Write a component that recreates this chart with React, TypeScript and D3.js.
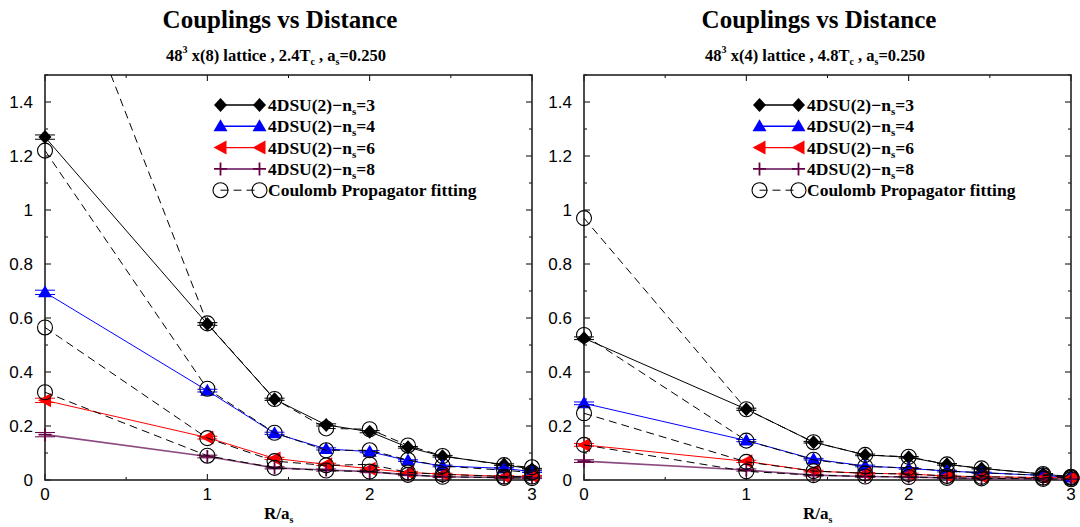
import React from "react";
import * as d3 from "d3";

// distances R/a_s
const R = [0, 1, 1.414, 1.732, 2, 2.236, 2.449, 2.828, 3];

// left panel: 48^3 x(8), 2.4Tc
const L_ns3 = [1.27, 0.578, 0.299, 0.204, 0.179, 0.121, 0.088, 0.057, 0.04];
const L_ns4 = [0.695, 0.331, 0.173, 0.115, 0.105, 0.072, 0.052, 0.043, 0.031];
const L_ns6 = [0.295, 0.157, 0.08, 0.058, 0.042, 0.028, 0.022, 0.013, 0.014];
const L_ns8 = [0.168, 0.087, 0.045, 0.037, 0.031, 0.019, 0.012, 0.009, 0.008];
const L_fit3 = [2.13, 0.58, 0.3, 0.191, 0.188, 0.128, 0.089, 0.055, 0.047];
const L_fit4 = [1.22, 0.338, 0.175, 0.11, 0.11, 0.074, 0.052, 0.036, 0.028];
const L_fit6 = [0.565, 0.155, 0.07, 0.054, 0.058, 0.028, 0.021, 0.013, 0.013];
const L_fit8 = [0.325, 0.09, 0.045, 0.035, 0.031, 0.019, 0.012, 0.008, 0.007];
const L_err = [0.008, 0.005, 0.004, 0.004, 0.004, 0.003, 0.003, 0.003, 0.003];

// right panel: 48^3 x(4), 4.8Tc
const R_ns3 = [0.525, 0.262, 0.14, 0.093, 0.084, 0.058, 0.043, 0.022, 0.012];
const R_ns4 = [0.284, 0.146, 0.077, 0.052, 0.043, 0.033, 0.027, 0.017, 0.009];
const R_ns6 = [0.13, 0.069, 0.033, 0.025, 0.022, 0.015, 0.012, 0.009, 0.008];
const R_ns8 = [0.07, 0.037, 0.018, 0.013, 0.011, 0.008, 0.006, 0.004, 0.003];
const R_fit3 = [0.97, 0.262, 0.14, 0.093, 0.086, 0.058, 0.043, 0.022, 0.012];
const R_fit4 = [0.537, 0.146, 0.075, 0.05, 0.045, 0.033, 0.027, 0.017, 0.009];
const R_fit6 = [0.247, 0.067, 0.033, 0.025, 0.022, 0.015, 0.012, 0.009, 0.008];
const R_fit8 = [0.13, 0.032, 0.018, 0.013, 0.011, 0.008, 0.006, 0.004, 0.003];
const R_err = [0.005, 0.004, 0.003, 0.003, 0.003, 0.003, 0.002, 0.002, 0.002];

const Y_TICKS = [0, 0.2, 0.4, 0.6, 0.8, 1, 1.2, 1.4];
const X_TICKS = [0, 1, 2, 3];
const LEGEND = ["4DSU(2)\u2212n|=3", "4DSU(2)\u2212n|=4", "4DSU(2)\u2212n|=6", "4DSU(2)\u2212n|=8"];

const SERIF = "'Liberation Serif', 'DejaVu Serif', serif";
const SANS = "'Liberation Sans', Arial, sans-serif";

const STY = [
  { line: "#000000", mark: "#000000", kind: "diamond", lw: 1 },
  { line: "#0000ff", mark: "#0000ff", kind: "tri", lw: 1 },
  { line: "#ff0000", mark: "#ff0000", kind: "left", lw: 1 },
  { line: "#8a4a80", mark: "#660044", kind: "plus", lw: 1.6 },
];

function Marker({ kind, x, y, color }: any) {
  if (kind === "diamond")
    return <path d={`M${x},${y - 7}L${x + 6.5},${y}L${x},${y + 7}L${x - 6.5},${y}Z`} fill={color} />;
  if (kind === "tri")
    return <path d={`M${x},${y - 7}L${x + 7},${y + 5}L${x - 7},${y + 5}Z`} fill={color} />;
  if (kind === "left")
    return <path d={`M${x - 7},${y}L${x + 6},${y - 7}L${x + 6},${y + 7}Z`} fill={color} />;
  return <path d={`M${x - 6.5},${y}H${x + 6.5}M${x},${y - 6.5}V${y + 6.5}`} stroke={color} strokeWidth={1.8} />;
}

function Panel({ ox, id, sub, meas, fits, err }: any) {
  const x = d3.scaleLinear().domain([0, 3]).range([ox, ox + 487]);
  const y = d3.scaleLinear().domain([0, 1.5]).range([480, 75]);
  const line = d3.line<number>().x((_, i) => x(R[i])).y((v) => y(v));
  const minorY = d3.range(0, 16).map((i) => i / 10);
  const minorX = d3.range(0, 7).map((i) => i / 2);
  const cx = ox + 235;
  const inRange = (v: number) => v <= 1.5;
  return (
    <g>
      <defs>
        <clipPath id={id}>
          <rect x={x(0)} y={y(1.5)} width={x(3) - x(0)} height={y(0) - y(1.5)} />
        </clipPath>
      </defs>
      <text x={cx} y={28} textAnchor="middle" fontFamily={SERIF} fontWeight="bold" fontSize={25}>
        Couplings vs Distance
      </text>
      <text x={cx - 4} y={61} textAnchor="middle" fontFamily={SERIF} fontWeight="bold" fontSize={16.5}>
        48<tspan fontSize={10} dy={-8}>3</tspan>
        <tspan dy={8}> x({sub[0]}) lattice , {sub[1]}T</tspan>
        <tspan fontSize={10} dy={4}>c</tspan>
        <tspan dy={-4}> , a</tspan>
        <tspan fontSize={10} dy={4}>s</tspan>
        <tspan dy={-4}>=0.250</tspan>
      </text>
      {/* ticks */}
      {minorY.map((t, i) => {
        const len = i % 2 === 0 ? 6 : 3;
        return (
          <g key={"yt" + i} stroke="#000" strokeWidth={1}>
            <line x1={x(0)} x2={x(0) + len} y1={y(t)} y2={y(t)} />
            <line x1={x(3)} x2={x(3) - len} y1={y(t)} y2={y(t)} />
          </g>
        );
      })}
      {minorX.map((t, i) => {
        const len = i % 2 === 0 ? 6 : 3;
        return (
          <g key={"xt" + i} stroke="#000" strokeWidth={1}>
            <line x1={x(t)} x2={x(t)} y1={y(0)} y2={y(0) - len} />
            <line x1={x(t)} x2={x(t)} y1={y(1.5)} y2={y(1.5) + len} />
          </g>
        );
      })}
      {Y_TICKS.map((t) => (
        <text key={"yl" + t} x={x(0) - 12} y={y(t) + 6} textAnchor="end" fontFamily={SANS} fontSize={17}>
          {d3.format("~g")(t)}
        </text>
      ))}
      {X_TICKS.map((t) => (
        <text key={"xl" + t} x={x(t)} y={500} textAnchor="middle" fontFamily={SANS} fontSize={17}>
          {t}
        </text>
      ))}
      <text x={x(1.41) - 10} y={519} fontFamily={SERIF} fontWeight="bold" fontSize={17}>
        R/a<tspan fontSize={10} dy={4}>s</tspan>
      </text>
      {/* frame */}
      <rect x={x(0)} y={y(1.5)} width={x(3) - x(0)} height={y(0) - y(1.5)} fill="none" stroke="#222" strokeWidth={1.6} />
      {/* data lines (clipped) */}
      <g clipPath={`url(#${id})`}>
        {meas.map((s: number[], k: number) => (
          <path key={"ml" + k} d={line(s) || ""} fill="none" stroke={STY[k].line} strokeWidth={STY[k].lw} />
        ))}
      </g>
      {meas.map((s: number[], k: number) =>
        s.map((v, i) => {
          const px = x(R[i]);
          const e = err[i];
          return (
            <g key={`eb${k}-${i}`} stroke={STY[k].mark} strokeWidth={1}>
              <line x1={px} x2={px} y1={y(v - e)} y2={y(v + e)} />
              <line x1={px - 10} x2={px + 10} y1={y(v - e)} y2={y(v - e)} />
              <line x1={px - 10} x2={px + 10} y1={y(v + e)} y2={y(v + e)} />
            </g>
          );
        })
      )}
      {meas.map((s: number[], k: number) =>
        s.map((v, i) => <Marker key={`mk${k}-${i}`} kind={STY[k].kind} x={x(R[i])} y={y(v)} color={STY[k].mark} />)
      )}
      <g clipPath={`url(#${id})`}>
        {fits.map((s: number[], k: number) => (
          <path key={"fl" + k} d={line(s) || ""} fill="none" stroke="#000" strokeWidth={1} strokeDasharray="8,5" />
        ))}
      </g>
      {fits.map((s: number[], k: number) =>
        s.map((v, i) =>
          inRange(v) ? (
            <circle key={`fc${k}-${i}`} cx={x(R[i])} cy={y(v)} r={7.5} fill="none" stroke="#000" strokeWidth={1.1} />
          ) : null
        )
      )}
      {/* legend */}
      {LEGEND.map((lab, k) => {
        const ly = 105 + k * 21.3;
        const a = ox + 175.5;
        const b = ox + 214.5;
        const [pre, post] = lab.split("|");
        return (
          <g key={"lg" + k}>
            <line x1={a} x2={b} y1={ly} y2={ly} stroke={STY[k].line} strokeWidth={STY[k].lw + 0.4} />
            <Marker kind={STY[k].kind} x={a} y={ly} color={STY[k].mark} />
            <Marker kind={STY[k].kind} x={b} y={ly} color={STY[k].mark} />
            <text x={ox + 223} y={ly + 6} fontFamily={SERIF} fontWeight="bold" fontSize={17.5}>
              {pre}
              <tspan fontSize={11} dy={4}>s</tspan>
              <tspan dy={-4}>{post}</tspan>
            </text>
          </g>
        );
      })}
      {(() => {
        const ly = 105 + 4 * 21.3;
        const a = ox + 175.5;
        const b = ox + 214.5;
        return (
          <g>
            <line x1={a} x2={b} y1={ly} y2={ly} stroke="#000" strokeWidth={1} strokeDasharray="8,5" />
            <circle cx={a} cy={ly} r={7.5} fill="none" stroke="#000" strokeWidth={1.1} />
            <circle cx={b} cy={ly} r={7.5} fill="none" stroke="#000" strokeWidth={1.1} />
            <text x={ox + 223} y={ly + 6} fontFamily={SERIF} fontWeight="bold" fontSize={17.5}>
              Coulomb Propagator fitting
            </text>
          </g>
        );
      })()}
    </g>
  );
}

export default function App() {
  return (
    <svg
      width={1080}
      height={527}
      viewBox="0 0 1080 527"
      style={{ position: "absolute", left: 0, top: 0, background: "#fff" }}
    >
      <rect width={1080} height={527} fill="#fff" />
      <Panel
        ox={45}
        id="clipL"
        sub={["8", "2.4"]}
        meas={[L_ns3, L_ns4, L_ns6, L_ns8]}
        fits={[L_fit3, L_fit4, L_fit6, L_fit8]}
        err={L_err}
      />
      <Panel
        ox={584}
        id="clipR"
        sub={["4", "4.8"]}
        meas={[R_ns3, R_ns4, R_ns6, R_ns8]}
        fits={[R_fit3, R_fit4, R_fit6, R_fit8]}
        err={R_err}
      />
    </svg>
  );
}
